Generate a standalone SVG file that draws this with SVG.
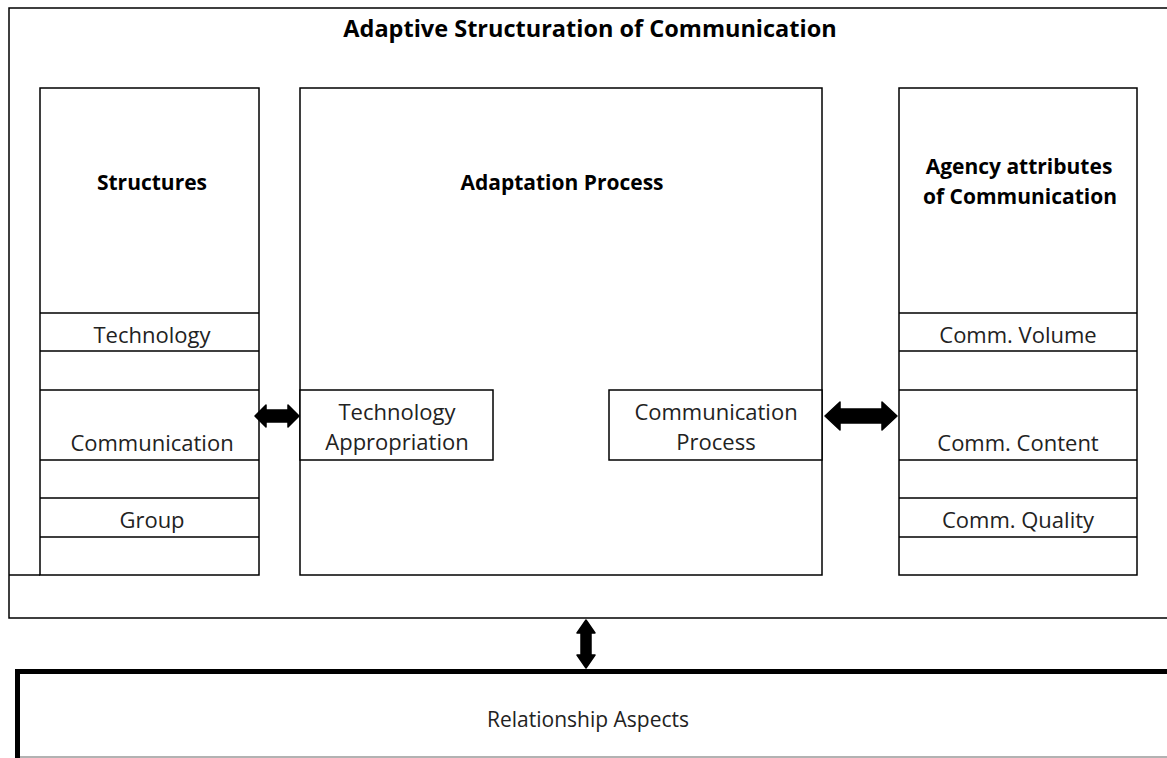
<svg xmlns="http://www.w3.org/2000/svg" width="1167" height="758" viewBox="0 0 1167 758">
<style>
.box{fill:#fff;stroke:#000;stroke-width:1.5}
.ln{stroke:#000;stroke-width:1.5;fill:none}
.t{font-family:"Open Sans","Noto Sans",sans-serif;font-size:22px;fill:#222;text-anchor:middle}
.h{font-family:"Open Sans","Noto Sans",sans-serif;font-size:21px;font-weight:bold;fill:#000;text-anchor:middle}
.arr{fill:#000;stroke:#000;stroke-width:1.5;stroke-linejoin:round}
</style>
<rect width="1167" height="758" fill="#fff"/>
<g id="outer">
<path class="ln" d="M1170,8 H9 V618 H1170"/>
<path class="ln" d="M9,575 H40"/>
<text class="h" x="590" y="37" style="font-size:23.5px">Adaptive Structuration of Communication</text>
</g>
<g id="structures">
<rect class="box" x="40" y="88" width="219" height="487"/>
<path class="ln" d="M40,313 H259 M40,351 H259 M40,390 H259 M40,460 H259 M40,498 H259 M40,537 H259"/>
<text class="h" x="152" y="190">Structures</text>
<text class="t" x="152" y="343">Technology</text>
<text class="t" x="152" y="451">Communication</text>
<text class="t" x="152" y="528">Group</text>
</g>
<g id="adaptation">
<rect class="box" x="300" y="88" width="522" height="487"/>
<text class="h" x="562" y="190">Adaptation Process</text>
</g>
<g id="tech-appropriation">
<rect class="box" x="300" y="390" width="193" height="70"/>
<text class="t" x="397" y="420">Technology</text>
<text class="t" x="397" y="450">Appropriation</text>
</g>
<g id="comm-process">
<rect class="box" x="609" y="390" width="213" height="70"/>
<text class="t" x="716" y="420">Communication</text>
<text class="t" x="716" y="450">Process</text>
</g>
<g id="agency">
<rect class="box" x="899" y="88" width="238" height="487"/>
<path class="ln" d="M899,313 H1137 M899,351 H1137 M899,390 H1137 M899,460 H1137 M899,498 H1137 M899,537 H1137"/>
<text class="h" x="1019" y="174">Agency attributes</text>
<text class="h" x="1020" y="204">of Communication</text>
<text class="t" x="1018" y="343">Comm. Volume</text>
<text class="t" x="1018" y="451">Comm. Content</text>
<text class="t" x="1018" y="528">Comm. Quality</text>
</g>
<g id="relationship">
<path d="M1170,671.5 H17.5 V758" fill="none" stroke="#000" stroke-width="5"/>
<path d="M20,757 H1167" stroke="#999" stroke-width="1.5"/>
<text class="t" x="588" y="727" style="font-size:21px">Relationship Aspects</text>
</g>
<g id="connectors">
<polygon class="arr" points="255,416 266,405 266,410 288,410 288,405 299,416 288,427 288,422 266,422 266,427"/>
<polygon class="arr" points="825,416 840,402 840,409 882,409 882,402 897,416 882,430 882,423 840,423 840,430"/>
<polygon class="arr" points="586,620 595,633 591,633 591,655 595,655 586,668 577,655 581,655 581,633 577,633"/>
</g>
</svg>
